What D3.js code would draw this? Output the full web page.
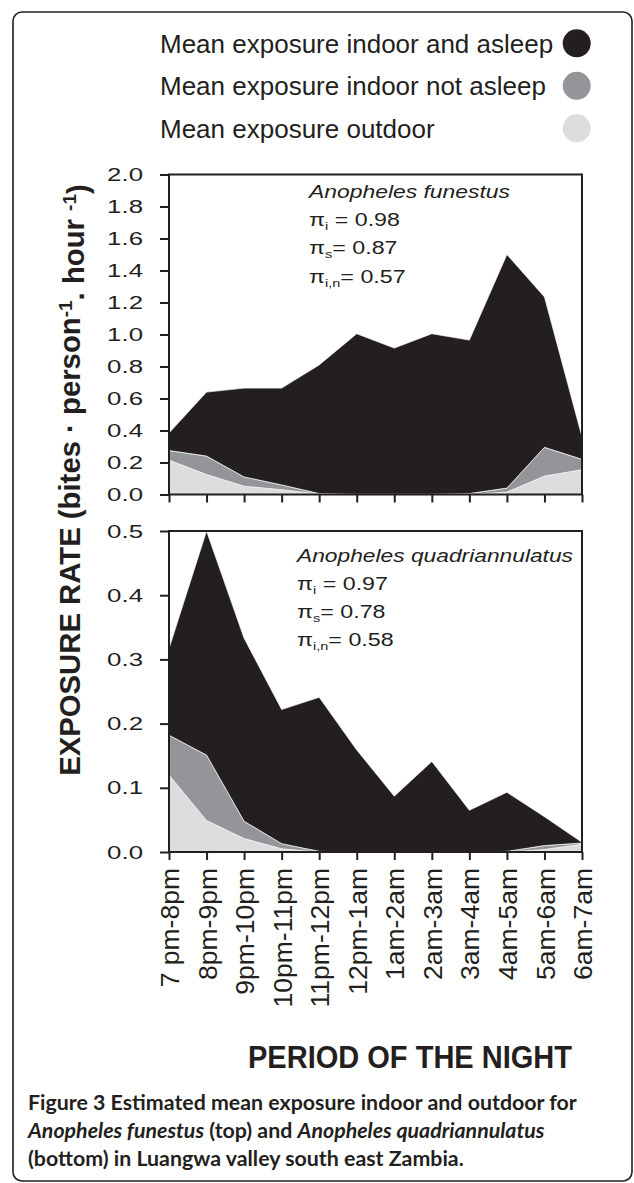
<!DOCTYPE html>
<html>
<head>
<meta charset="utf-8">
<script src="https://cdn.jsdelivr.net/npm/d3@7/dist/d3.min.js"></script>
<style>
    body { margin: 0; background: #fff; }
    svg text { font-family: "Liberation Sans", Arial, Helvetica, sans-serif; fill: #231f20; }
    svg text.caption { font-family: Lato, "Open Sans", sans-serif; font-weight: bold; }
</style>
</head>
<body>
<div id="vis"></div>
<script>
/* *************************** Data ***************************** */

// Periods of the night (x categories)
var periods = ['7 pm-8pm', '8pm-9pm', '9pm-10pm', '10pm-11pm', '11pm-12pm', '12pm-1am',
    '1am-2am', '2am-3am', '3am-4am', '4am-5am', '5am-6am', '6am-7am'];

// Legend labels, in the order they are listed
var seriesNames = ['Mean exposure indoor and asleep', 'Mean exposure indoor not asleep', 'Mean exposure outdoor'];

// Anopheles funestus, exposure per layer (stacked: outdoor, indoor not asleep, indoor asleep)
var funestusOutdoor = [0.215, 0.125, 0.052, 0.03, 0.003, 0, 0, 0, 0, 0.015, 0.115, 0.155];
var funestusNotAsleep = [0.06, 0.115, 0.058, 0.03, 0.003, 0.002, 0.002, 0.002, 0.006, 0.025, 0.18, 0.065];
var funestusAsleep = [0.11, 0.40, 0.555, 0.605, 0.804, 1.003, 0.913, 1.003, 0.959, 1.46, 0.94, 0.14];

// Anopheles quadriannulatus
var quadOutdoor = [0.12, 0.049, 0.021, 0.005, 0, 0, 0, 0, 0, 0, 0.004, 0.012];
var quadNotAsleep = [0.062, 0.102, 0.027, 0.008, 0.001, 0, 0, 0, 0, 0.001, 0.006, 0.002];
var quadAsleep = [0.135, 0.349, 0.285, 0.209, 0.24, 0.159, 0.087, 0.141, 0.065, 0.092, 0.045, 0.001];

// Tick values
var funestusTicks = [0, 0.2, 0.4, 0.6, 0.8, 1.0, 1.2, 1.4, 1.6, 1.8, 2.0];
var quadTicks = [0, 0.1, 0.2, 0.3, 0.4, 0.5];

// Annotation values (pi_i, pi_s, pi_i,n)
var piLabels = ['i', 's', 'i,n'];
var funestusPi = ['0.98', '0.87', '0.57'];
var quadPi = ['0.97', '0.78', '0.58'];

/* *************************** Settings ***************************** */

var width = 634;
var height = 1183;
var ink = '#231f20';
var colors = { asleep: '#231f20', notAsleep: '#939598', outdoor: '#dcddde' };
var keys = ['outdoor', 'notAsleep', 'asleep'];

var plotLeft = 169;
var plotRight = 582;
var annStretch = 1.32;

var svg = d3.select('#vis')
    .append('svg')
    .attr('width', width)
    .attr('height', height);

// Outer rounded frame
svg.append('rect')
    .attr('x', 13).attr('y', 12)
    .attr('width', 619).attr('height', 1169)
    .attr('rx', 9)
    .attr('fill', 'none')
    .attr('stroke', ink)
    .attr('stroke-width', 1.6);

var xScale = d3.scalePoint()
    .domain(periods)
    .range([plotLeft, plotRight]);

// Build a table from the arrays for d3.stack
var makeTable = function(outdoor, notAsleep, asleep) {
    return periods.map(function(p, i) {
        return { period: p, outdoor: outdoor[i], notAsleep: notAsleep[i], asleep: asleep[i] };
    });
};

var stack = d3.stack().keys(keys);

/* *************************** Draw a panel ***************************** */

var drawPanel = function(opts) {
    var yScale = d3.scaleLinear()
        .domain(opts.domain)
        .range([opts.bottom, opts.top]);

    var layers = stack(opts.table);

    var area = d3.area()
        .x(function(d) { return xScale(d.data.period); })
        .y0(function(d) { return yScale(d[0]); })
        .y1(function(d) { return yScale(d[1]); });

    var g = svg.append('g');

    g.selectAll('path.layer')
        .data(layers)
        .enter().append('path')
        .attr('class', 'layer')
        .attr('d', area)
        .attr('fill', function(d) { return colors[d.key]; })
        .attr('stroke', function(d) { return d.key === 'outdoor' ? 'none' : '#fff'; })
        .attr('stroke-width', 0.7)
        .attr('stroke-linejoin', 'round');

    // Frame of the panel
    g.append('rect')
        .attr('x', plotLeft).attr('y', opts.top)
        .attr('width', plotRight - plotLeft).attr('height', opts.bottom - opts.top)
        .attr('fill', 'none')
        .attr('stroke', ink)
        .attr('stroke-width', 2);

    // Y axis
    var yAxis = d3.axisLeft(yScale)
        .tickValues(opts.ticks)
        .tickSize(9)
        .tickFormat(d3.format('.1f'));
    var ya = g.append('g')
        .attr('transform', 'translate(' + plotLeft + ',0)')
        .call(yAxis);
    ya.select('.domain').remove();
    ya.selectAll('line').attr('stroke', ink).attr('stroke-width', 2);
    ya.selectAll('text')
        .attr('x', -26 / 1.36)
        .attr('transform', 'scale(1.36,1)')
        .style('font-size', '19px')
        .style('font-family', '"Liberation Sans", Arial, sans-serif')
        .attr('fill', ink);

    // X axis (ticks only, labels on bottom panel)
    var xAxis = d3.axisBottom(xScale).tickSize(8);
    var xa = g.append('g')
        .attr('transform', 'translate(0,' + opts.bottom + ')')
        .call(xAxis);
    xa.select('.domain').remove();
    xa.selectAll('line').attr('stroke', ink).attr('stroke-width', 2);
    if (opts.labels) {
        xa.selectAll('text')
            .attr('transform', 'rotate(-90)')
            .attr('x', -16)
            .attr('y', 0)
            .attr('dy', '0.36em')
            .style('text-anchor', 'end')
            .style('font-size', '26.5px')
            .style('font-family', '"Liberation Sans", Arial, sans-serif')
            .attr('fill', ink);
    } else {
        xa.selectAll('text').remove();
    }

    // Annotation block
    var ann = g.append('g')
        .attr('transform', 'translate(' + opts.annX + ',' + opts.annY + ') scale(' + annStretch + ',1)');
    ann.append('text')
        .attr('x', 0).attr('y', 0)
        .attr('textLength', opts.speciesWidth / annStretch)
        .attr('lengthAdjust', 'spacingAndGlyphs')
        .style('font-size', '17.6px')
        .style('font-style', 'italic')
        .text(opts.species);
    opts.pi.forEach(function(v, k) {
        var t = ann.append('text')
            .attr('x', 0)
            .attr('y', (k + 1) * opts.annStep)
            .style('font-size', '17.6px');
        t.append('tspan').text('\u03c0');
        t.append('tspan').attr('dy', 4).style('font-size', '11px').text(piLabels[k]);
        t.append('tspan').attr('dy', -4).text((k === 0 ? ' = ' : '= ') + v);
    });
};

drawPanel({
    table: makeTable(funestusOutdoor, funestusNotAsleep, funestusAsleep),
    domain: [0, 2], ticks: funestusTicks,
    top: 174.5, bottom: 494.5,
    labels: false,
    species: 'Anopheles funestus', pi: funestusPi, speciesWidth: 201,
    annX: 309, annY: 197.5, annStep: 28.5
});

drawPanel({
    table: makeTable(quadOutdoor, quadNotAsleep, quadAsleep),
    domain: [0, 0.5], ticks: quadTicks,
    top: 531, bottom: 852,
    labels: true,
    species: 'Anopheles quadriannulatus', pi: quadPi, speciesWidth: 276,
    annX: 297, annY: 561.5, annStep: 28.1
});

/* *************************** Legend ***************************** */

var legendColors = [colors.asleep, colors.notAsleep, colors.outdoor];
var legend = svg.append('g');
seriesNames.forEach(function(name, i) {
    var cy = 43.3 + i * 42.5;
    legend.append('text')
        .attr('x', 160).attr('y', cy + 9.3)
        .style('font-size', '26px')
        .text(name);
    legend.append('circle')
        .attr('cx', 576.7).attr('cy', cy)
        .attr('r', 14)
        .attr('fill', legendColors[i]);
});

/* *************************** Titles ***************************** */

// Fit a text element to a target length by changing its font size
var fitText = function(sel, size, target) {
    sel.style('font-size', size + 'px');
    var len = sel.node().getComputedTextLength();
    sel.style('font-size', (size * target / len) + 'px');
};

var yTitle = svg.append('text')
    .attr('transform', 'translate(80,480) rotate(-90)')
    .style('text-anchor', 'middle')
    .style('font-weight', 'bold');
yTitle.append('tspan').text('EXPOSURE RATE (bites \u00b7 person');
yTitle.append('tspan').attr('dy', '-0.4em').style('font-size', '65%').text('-1');
yTitle.append('tspan').attr('dy', '0.4em').text('. hour ');
yTitle.append('tspan').attr('dy', '-0.4em').style('font-size', '65%').text('-1');
yTitle.append('tspan').attr('dy', '0.4em').text(')');
fitText(yTitle, 29.5, 592);

var xTitle = svg.append('text')
    .attr('x', 248).attr('y', 1068)
    .style('font-weight', 'bold')
    .attr('textLength', 324)
    .attr('lengthAdjust', 'spacingAndGlyphs')
    .style('font-size', '32px')
    .text('PERIOD OF THE NIGHT');

/* *************************** Caption ***************************** */

var cap1 = svg.append('text').attr('class', 'caption').attr('x', 28).attr('y', 1110);
cap1.append('tspan').text('Figure 3');
cap1.append('tspan').text(' Estimated mean exposure indoor and outdoor for');
fitText(cap1, 20, 549);
var capSize = cap1.style('font-size');

var cap2 = svg.append('text').attr('class', 'caption').attr('x', 28).attr('y', 1138)
    .style('font-size', capSize);
cap2.append('tspan').style('font-style', 'italic').text('Anopheles funestus');
cap2.append('tspan').text(' (top) and ');
cap2.append('tspan').style('font-style', 'italic').text('Anopheles quadriannulatus');

svg.append('text').attr('class', 'caption').attr('x', 28).attr('y', 1166)
    .style('font-size', capSize)
    .text('(bottom) in Luangwa valley south east Zambia.');
</script>
</body>
</html>
